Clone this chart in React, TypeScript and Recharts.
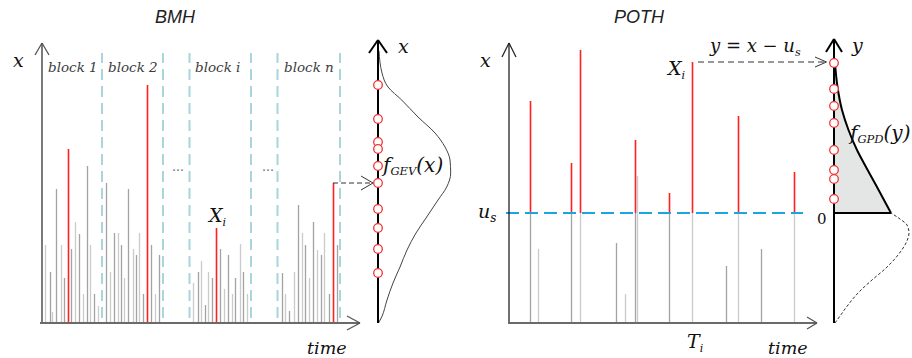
import React from "react";
import {
  ComposedChart,
  Bar,
  XAxis,
  YAxis,
  ReferenceLine,
  LineChart,
  Line,
  ScatterChart,
  Scatter,
  AreaChart,
  Area,
} from "recharts";

const W = 912;
const H = 358;

// ---------- BMH (block maxima) ----------
const block1Times = [3, 8, 10, 14, 19, 22, 26, 29, 33, 37, 41, 45, 48, 52, 56];
const block1Values = [78, 51, 11, 134, 78, 45, 174, 74, 101, 89, 29, 157, 78, 29, 17];
const block2Times = [64, 68, 72, 76, 79, 82, 86, 91, 94, 97, 101, 105, 109, 113, 117];
const block2Values = [140, 51, 90, 90, 78, 45, 134, 74, 68, 90, 29, 238, 78, 29, 68];
const blockITimes = [151, 156, 159, 163, 166, 170, 174, 178, 182, 186, 190, 193, 198, 201, 205];
const blockIValues = [40, 51, 62, 18, 51, 45, 95, 74, 34, 68, 29, 45, 79, 51, 29];
const blockNTimes = [240, 243, 247, 252, 256, 260, 263, 267, 271, 275, 279, 282, 287, 291, 295];
const blockNValues = [50, 29, 12, 51, 118, 90, 78, 45, 101, 73, 68, 90, 29, 140, 78];
const blockEdges = [60, 121, 147.5, 209, 235.5, 298];

// GEV sample of block maxima and the density curve
const gevSample = [238, 204, 181, 174, 157, 140, 114, 95, 74, 50];
const gevCurveX = [0, 6, 23, 40, 56, 73, 90, 106, 123, 136, 150, 163, 176, 190, 206, 223, 236, 250, 272];
const gevCurveDensity = [0.5, 3.7, 9, 15, 22, 29, 38, 48.7, 60, 68.7, 72.7, 72, 67, 57, 40, 23.7, 10, 4, 1];

// ---------- POTH (peaks over threshold) ----------
const threshold = 110;
const pothTimes = [21, 29, 62, 71, 107, 116, 126, 128, 160, 183, 217, 229, 252, 285];
const pothValues = [222, 74, 160, 273, 80, 29, 183, 147, 130, 261, 57, 207, 74, 151];
const pothPeaks = [true, false, true, true, false, false, true, false, true, true, false, true, false, true];

// GPD sample of exceedances and densities
const gpdSample = [150, 124, 107, 90, 63, 43, 34, 14];
const gpdCurveY = [0, 26, 46, 63, 83, 103, 126, 150];
const gpdCurveDensity = [57, 43, 32, 23, 14.5, 8, 3.5, 1];
const belowCurveY = [-110, -103, -92, -79, -67, -55, -42, -30, -20, -12, -6, 0];
const belowCurveDensity = [1, 6, 14, 25, 38, 52, 64, 72, 75, 73, 66, 57];

const RED = "#ff2020";
const GRAY_DARK = "#a3a3a3";
const GRAY_LIGHT = "#cbcbcb";
const MATH = "'DejaVu Serif', serif";

// build tables
const blocks = [
  [block1Times, block1Values],
  [block2Times, block2Values],
  [blockITimes, blockIValues],
  [blockNTimes, blockNValues],
];
const bmhData: { t: number; v: number; max: boolean }[] = [];
blocks.forEach(([ts, vs]) => {
  const m = Math.max(...vs);
  ts.forEach((t, i) => bmhData.push({ t, v: vs[i], max: vs[i] === m }));
});
const bmhColors = bmhData.map((d, i) => (d.max ? RED : i % 2 ? GRAY_DARK : GRAY_LIGHT));

const gevCurve = gevCurveX.map((v, i) => ({ v, d: gevCurveDensity[i] }));
const gevPoints = gevSample.map((v) => ({ d: 0, v }));

const pothData = pothTimes.map((t, i) => {
  const v = pothValues[i];
  const peak = pothPeaks[i];
  return {
    t,
    below: peak ? Math.min(v, threshold) : v,
    above: peak ? Math.max(v - threshold, 0) : 0,
  };
});
const pothGray = pothTimes.map((_, i) => (i % 2 ? GRAY_LIGHT : GRAY_DARK));

const gpdCurve = gpdCurveY.map((y, i) => ({ y, d: gpdCurveDensity[i] }));
const belowCurve = belowCurveY.map((y, i) => ({ y, d: belowCurveDensity[i] }));
const gpdPoints = gpdSample.map((y) => ({ d: 0, y }));

const layer: React.CSSProperties = { position: "absolute", left: 0, top: 0 };

function stick(p: any, color: string, w: number) {
  const { x, y, width, height } = p;
  if (!height || height <= 0) return <g />;
  const cx = x + width / 2;
  return <rect x={cx - w / 2} y={y} width={w} height={height} fill={color} />;
}

function seg(x1: number, y1: number, x2: number, y2: number, stroke: string, sw: number, dash?: string, key?: string) {
  return (
    <ReferenceLine
      key={key}
      segment={[
        { x: x1, y: y1 },
        { x: x2, y: y2 },
      ]}
      stroke={stroke}
      strokeWidth={sw}
      strokeDasharray={dash}
      ifOverflow="visible"
    />
  );
}

const circleShape = (p: any) => (
  <circle cx={p.cx} cy={p.cy} r={4.3} fill="#fff" stroke="#f03434" strokeWidth={1.3} />
);

export default function App() {
  return (
    <div style={{ position: "absolute", left: 0, top: 0, width: W, height: H, background: "#fff", overflow: "hidden" }}>
      {/* BMH bars */}
      <div style={layer}>
        <ComposedChart width={W} height={H} data={bmhData} margin={{ top: 43, left: 42, right: 552, bottom: 35 }}>
          <XAxis type="number" dataKey="t" domain={[0, 318]} hide allowDataOverflow />
          <YAxis type="number" domain={[0, 280]} hide allowDataOverflow />
          {blockEdges.map((e, i) => seg(e, 5, e, 270, "#a8d6dc", 2, "11 6", "e" + i))}
          <Bar dataKey="v" barSize={1} isAnimationActive={false} shape={(p: any) => stick(p, bmhColors[p.index], bmhData[p.index].max ? 1.6 : 1.3)} />
          {seg(0, -1, 0, 280, "#7a7a7a", 2)}
          {seg(-7, 268, 0, 280, "#555", 1.3)}
          {seg(7, 268, 0, 280, "#555", 1.3)}
          {seg(-2, 0, 318, 0, "#6a6a6a", 2)}
          {seg(305, 7, 318, 0, "#555", 1.3)}
          {seg(305, -7, 318, 0, "#555", 1.3)}
          {seg(291, 140, 331, 140, "#333", 1, "5 3")}
          {seg(319, 147, 331, 140, "#333", 1)}
          {seg(319, 133, 331, 140, "#333", 1)}
        </ComposedChart>
      </div>

      {/* GEV density */}
      <div style={layer}>
        <LineChart width={W} height={H} data={gevCurve} layout="vertical" margin={{ top: 40, left: 378, right: 454, bottom: 35 }}>
          <XAxis type="number" domain={[0, 80]} hide allowDataOverflow />
          <YAxis type="number" dataKey="v" domain={[0, 283]} hide allowDataOverflow reversed />
          <Line dataKey="d" type="monotone" stroke="#444" strokeWidth={1} dot={false} isAnimationActive={false} />
          {seg(0, 0, 0, 283, "#000", 2)}
          {seg(-9, 270, 0, 283, "#000", 2)}
          {seg(9, 270, 0, 283, "#000", 2)}
        </LineChart>
      </div>
      <div style={layer}>
        <ScatterChart width={W} height={H} margin={{ top: 40, left: 378, right: 454, bottom: 35 }}>
          <XAxis type="number" dataKey="d" domain={[0, 80]} hide />
          <YAxis type="number" dataKey="v" domain={[0, 283]} hide />
          <Scatter data={gevPoints} shape={circleShape} isAnimationActive={false} />
        </ScatterChart>
      </div>

      {/* POTH bars */}
      <div style={layer}>
        <ComposedChart width={W} height={H} data={pothData} margin={{ top: 43, left: 509, right: 95, bottom: 35 }}>
          <XAxis type="number" dataKey="t" domain={[0, 308]} hide allowDataOverflow />
          <YAxis type="number" domain={[0, 280]} hide allowDataOverflow />
          <Bar dataKey="below" stackId="s" barSize={1} isAnimationActive={false} shape={(p: any) => stick(p, pothGray[p.index], 1.3)} />
          <Bar dataKey="above" stackId="s" barSize={1} isAnimationActive={false} shape={(p: any) => stick(p, RED, 1.6)} />
          {seg(-3, threshold, 294, threshold, "#1aa5e0", 2, "13 6")}
          {seg(0, 0, 0, 280, "#111", 1.2)}
          {seg(-7, 266, 0, 280, "#222", 1.2)}
          {seg(7, 266, 0, 280, "#222", 1.2)}
          {seg(-1, 0, 308, 0, "#6a6a6a", 2)}
          {seg(298, 6, 308, 0, "#555", 1.3)}
          {seg(298, -6, 308, 0, "#555", 1.3)}
          {seg(189, 261, 317, 261, "#333", 1, "6 4")}
          {seg(306, 266, 317.5, 261, "#333", 1)}
          {seg(306, 256, 317.5, 261, "#333", 1)}
        </ComposedChart>
      </div>

      {/* GPD density */}
      <div style={layer}>
        <AreaChart width={W} height={H} data={gpdCurve} layout="vertical" margin={{ top: 39, left: 834, right: 0, bottom: 35 }}>
          <XAxis type="number" domain={[0, 78]} hide allowDataOverflow />
          <YAxis type="number" dataKey="y" domain={[-110, 174]} hide allowDataOverflow reversed />
          <Area dataKey="d" type="monotone" stroke="#000" strokeWidth={2} fill="#e4e6e6" fillOpacity={1} isAnimationActive={false} />
        </AreaChart>
      </div>
      <div style={layer}>
        <LineChart width={W} height={H} data={belowCurve} layout="vertical" margin={{ top: 39, left: 834, right: 0, bottom: 35 }}>
          <XAxis type="number" domain={[0, 78]} hide allowDataOverflow />
          <YAxis type="number" dataKey="y" domain={[-110, 174]} hide allowDataOverflow reversed />
          <Line dataKey="d" type="monotone" stroke="#333" strokeWidth={1} strokeDasharray="3 2" dot={false} isAnimationActive={false} />
          {seg(0, 0, 57, 0, "#000", 2)}
          {seg(0, -110, 0, 174, "#000", 2)}
          {seg(-8, 161, 0, 174, "#000", 2)}
          {seg(8, 161, 0, 174, "#000", 2)}
        </LineChart>
      </div>
      <div style={layer}>
        <ScatterChart width={W} height={H} margin={{ top: 39, left: 834, right: 0, bottom: 35 }}>
          <XAxis type="number" dataKey="d" domain={[0, 78]} hide />
          <YAxis type="number" dataKey="y" domain={[-110, 174]} hide />
          <Scatter data={gpdPoints} shape={circleShape} isAnimationActive={false} />
        </ScatterChart>
      </div>

      {/* Text */}
      <svg width={W} height={H} style={{ ...layer, pointerEvents: "none" }}>
        <g fontFamily="'Liberation Sans', Arial, sans-serif" fontStyle="italic" fontSize={18} fill="#222" textAnchor="middle">
          <text x={175} y={23}>BMH</text>
          <text x={639} y={23}>POTH</text>
        </g>
        <g fontFamily={MATH} fontStyle="italic" fontSize={13.5} fill="#3c3c3c">
          <text x={48} y={72}>block 1</text>
          <text x={108} y={72}>block 2</text>
          <text x={195} y={72}>block i</text>
          <text x={284} y={72}>block n</text>
        </g>
        <g fontFamily={MATH} fontSize={12} fill="#666">
          <text x={172} y={171}>…</text>
          <text x={262} y={171}>…</text>
        </g>
        <g fontFamily={MATH} fontStyle="italic" fill="#111">
          <text x={13} y={67} fontSize={19}>x</text>
          <text x={209} y={222} fontSize={19}>X<tspan fontSize={11} dy={4}>i</tspan></text>
          <text x={307} y={354} fontSize={17.5}>time</text>
          <text x={398} y={53} fontSize={19}>x</text>
          <text x={383} y={172} fontSize={20}>f<tspan fontSize={11.5} dy={3}>GEV</tspan><tspan dy={-3}>(x)</tspan></text>
          <text x={480} y={67} fontSize={19}>x</text>
          <text x={478} y={218} fontSize={19}>u<tspan fontSize={12} dy={4}>s</tspan></text>
          <text x={668} y={75} fontSize={19}>X<tspan fontSize={11} dy={4}>i</tspan></text>
          <text x={710} y={52} fontSize={18}>y = x − u<tspan fontSize={11} dy={4}>s</tspan></text>
          <text x={852} y={52} fontSize={19}>y</text>
          <text x={850} y={140} fontSize={20}>f<tspan fontSize={11.5} dy={3}>GPD</tspan><tspan dy={-3}>(y)</tspan></text>
          <text x={687} y={348} fontSize={19}>T<tspan fontSize={11} dy={4}>i</tspan></text>
          <text x={768} y={354} fontSize={17.5}>time</text>
          <text x={817} y={224} fontSize={15} fontStyle="normal">0</text>
        </g>
      </svg>
    </div>
  );
}
